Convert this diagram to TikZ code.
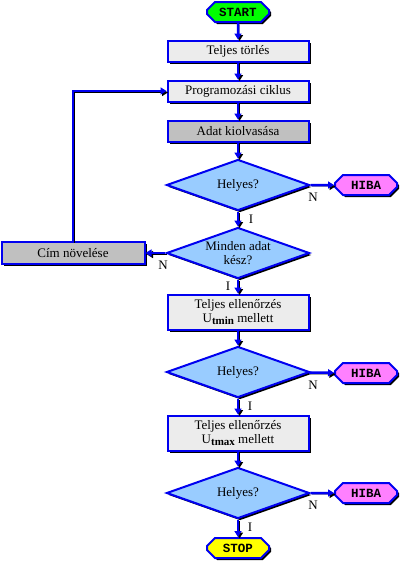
\documentclass[tikz,border=0pt]{standalone}
\usepackage{fontspec}
\setmainfont{Liberation Serif}
\setmonofont{Liberation Mono}
\usepackage{tikz}
\usetikzlibrary{shapes.geometric,shapes.misc,shadows,arrows.meta}
\definecolor{lineblue}{RGB}{0,0,240}
\definecolor{boxfill}{RGB}{236,236,236}
\definecolor{greyfill}{RGB}{192,192,192}
\definecolor{testfill}{RGB}{153,204,255}
\definecolor{startfill}{RGB}{0,255,0}
\definecolor{hibafill}{RGB}{255,128,255}
\definecolor{stopfill}{RGB}{255,255,0}
\newcommand{\Usub}[1]{U\raisebox{-2.5pt}{\fontsize{11}{11}\selectfont\bfseries #1}}
\tikzset{
  base/.style={draw=lineblue,line width=2pt,
    drop shadow={shadow xshift=2pt,shadow yshift=-2pt,opacity=1,fill=black},
    font=\fontsize{13}{14}\selectfont},
  box/.style={base,rectangle,fill=boxfill,minimum width=141pt,minimum height=21pt,
    inner sep=1pt,align=center},
  greybox/.style={box,fill=greyfill},
  test/.style={base,diamond,fill=testfill,aspect=2.8,minimum width=143pt,
    minimum height=51pt,inner sep=0pt,align=center},
  term/.style={base,chamfered rectangle,chamfered rectangle xsep=5pt,
    minimum width=62pt,minimum height=20pt,inner sep=1pt,
    font=\fontsize{12.5}{13}\selectfont\ttfamily\bfseries},
  flow/.style={draw=lineblue,line width=2.5pt,-{Triangle[length=6pt,width=7pt]},
    preaction={draw=black,transform canvas={shift={(1.5pt,-1.5pt)}}}},
  lab/.style={font=\fontsize{13}{14}\selectfont,inner sep=0pt}
}
\begin{document}
\begin{tikzpicture}[x=1pt,y=-1pt]
  \useasboundingbox (0,0) rectangle (400,563);
  \node[term,fill=startfill] (start) at (238,12) {START};
  \node[box] (torles) at (238,51) {Teljes törlés};
  \node[box] (prog) at (238,91) {Programozási ciklus};
  \node[greybox] (adat) at (238,131) {Adat kiolvasása};
  \node[test] (d1) at (238,185) {Helyes?};
  \node[term,fill=hibafill] (hiba1) at (366,185) {HIBA};
  \node[test] (d2) at (238,253) {Minden adat\\kész?};
  \node[greybox,minimum width=143pt,minimum height=22pt] (cim) at (73,253) {Cím növelése};
  \node[box,minimum height=35pt] (ell1) at (238,312) {Teljes ellenőrzés\\\Usub{tmin} mellett};
  \node[test] (d3) at (238,372) {Helyes?};
  \node[term,fill=hibafill] (hiba2) at (366,373) {HIBA};
  \node[box,minimum height=35pt] (ell2) at (238,433) {Teljes ellenőrzés\\\Usub{tmax} mellett};
  \node[test] (d4) at (238,493) {Helyes?};
  \node[term,fill=hibafill] (hiba3) at (366,493) {HIBA};
  \node[term,fill=stopfill] (stop) at (238,548) {STOP};
  \draw[flow] (start) -- (torles);
  \draw[flow] (torles) -- (prog);
  \draw[flow] (prog) -- (adat);
  \draw[flow] (adat) -- (d1);
  \draw[flow] (d1) -- (hiba1);
  \draw[flow] (d1) -- (d2);
  \draw[flow] (d2) -- (cim);
  \draw[flow] (cim.north) |- (prog.west);
  \draw[flow] (d2) -- (ell1);
  \draw[flow] (ell1) -- (d3);
  \draw[flow] (d3) -- (hiba2);
  \draw[flow] (d3) -- (ell2);
  \draw[flow] (ell2) -- (d4);
  \draw[flow] (d4) -- (hiba3);
  \draw[flow] (d4) -- (stop);
  \node[lab] (n1) at (313,197) {N};
  \node[lab] (i1) at (251,219) {I};
  \node[lab] (n2) at (163,265) {N};
  \node[lab] (i2) at (228,286) {I};
  \node[lab] (n3) at (313,385) {N};
  \node[lab] (i3) at (250,406) {I};
  \node[lab] (n4) at (313,505) {N};
  \node[lab] (i4) at (250,527) {I};
\end{tikzpicture}
\end{document}
